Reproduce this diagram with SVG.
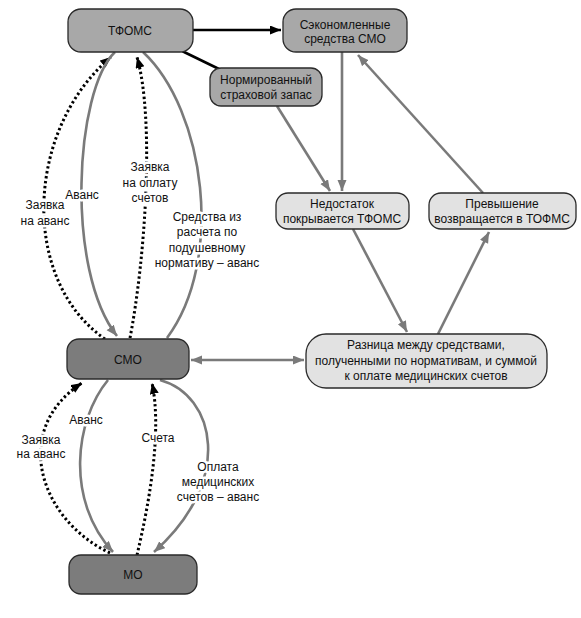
<svg xmlns="http://www.w3.org/2000/svg" width="581" height="618" viewBox="0 0 581 618">
<style>
text{font-family:"Liberation Sans",Arial,sans-serif;font-size:12px;fill:#111;text-anchor:middle}
.mid{fill:#a8a8a8;stroke:#2a2a2a;stroke-width:1.3}
.dark{fill:#7c7c7c;stroke:#2a2a2a;stroke-width:1.3}
.light{fill:#e2e2e2;stroke:#2a2a2a;stroke-width:1.3}
.g{fill:none;stroke:#7a7a7a;stroke-width:2.6}
.d{fill:none;stroke:#000;stroke-width:3;stroke-dasharray:2.4 2.6}
.k{fill:none;stroke:#000;stroke-width:2.6}
.lbl{paint-order:stroke;stroke:#fff;stroke-width:5px;stroke-linejoin:round}
</style>
<defs>
<marker id="ag" markerUnits="userSpaceOnUse" markerWidth="12" markerHeight="10" refX="11" refY="4.5" orient="auto-start-reverse"><path d="M0,0 L11,4.5 L0,9 z" fill="#7a7a7a"/></marker>
<marker id="ak" markerUnits="userSpaceOnUse" markerWidth="12" markerHeight="10" refX="11" refY="4.5" orient="auto"><path d="M0,0 L11,4.5 L0,9 z" fill="#000"/></marker>
</defs>
<rect width="581" height="618" fill="#fff"/>
<g id="connectors">
<path class="k" d="M193,30 L281,30" marker-end="url(#ak)"/>
<path class="k" d="M182,51 L219,69"/>
<path class="g" d="M277,106 L330,191" marker-end="url(#ag)"/>
<path class="g" d="M342,52 L342,191" marker-end="url(#ag)"/>
<path class="g" d="M483,193 L358,55" marker-end="url(#ag)"/>
<path class="g" d="M353,229 L407,332" marker-end="url(#ag)"/>
<path class="g" d="M438,334 L489,232" marker-end="url(#ag)"/>
<path class="g" d="M191,360 L304,360" marker-start="url(#ag)" marker-end="url(#ag)"/>
<path class="d" d="M105,339 C20,280 25,130 111,57" marker-end="url(#ak)"/>
<path class="g" d="M115,52 C75,90 65,270 117,336" marker-end="url(#ag)"/>
<path class="d" d="M130,338 C145,260 155,120 137,57" marker-end="url(#ak)"/>
<path class="g" d="M143,52 C205,110 225,260 167,338"/>
<path class="d" d="M110,553 C40,520 10,430 82,383" marker-end="url(#ak)"/>
<path class="g" d="M108,380 C75,420 65,500 113,552" marker-end="url(#ag)"/>
<path class="d" d="M137,555 C150,500 162,430 152,383" marker-end="url(#ak)"/>
<path class="g" d="M160,380 C215,395 235,480 154,552" marker-end="url(#ag)"/>
<g id="labels">
<text class="lbl" x="45" y="209">Заявка</text>
<text class="lbl" x="45" y="225">на аванс</text>
<text class="lbl" x="82" y="199">Аванс</text>
<text class="lbl" x="150" y="171">Заявка</text>
<text class="lbl" x="150" y="187">на оплату</text>
<text class="lbl" x="150" y="202">счетов</text>
<text class="lbl" x="207" y="221">Средства из</text>
<text class="lbl" x="207" y="236">расчета по</text>
<text class="lbl" x="207" y="252">подушевному</text>
<text class="lbl" x="207" y="267">нормативу – аванс</text>
<text class="lbl" x="41" y="444">Заявка</text>
<text class="lbl" x="41" y="458">на аванс</text>
<text class="lbl" x="86" y="424">Аванс</text>
<text class="lbl" x="158" y="442">Счета</text>
<text class="lbl" x="218" y="471">Оплата</text>
<text class="lbl" x="218" y="486">медицинских</text>
<text class="lbl" x="218" y="501">счетов – аванс</text>
</g>
</g>
<g id="tfoms"><rect class="mid" x="68" y="9" width="125" height="43" rx="13"/><text x="130" y="35">ТФОМС</text></g>
<g id="saved"><rect class="mid" x="283" y="9" width="124" height="43" rx="13"/><text x="345" y="29">Сэкономленные</text><text x="345" y="43">средства СМО</text></g>
<g id="reserve"><rect class="mid" x="210" y="68" width="112" height="38" rx="11"/><text x="266" y="84">Нормированный</text><text x="266" y="99">страховой запас</text></g>
<g id="shortage"><rect class="light" x="276" y="193" width="133" height="36" rx="12"/><text x="342" y="208">Недостаток</text><text x="342" y="223">покрывается ТФОМС</text></g>
<g id="excess"><rect class="light" x="429" y="193" width="147" height="36" rx="12"/><text x="502" y="208">Превышение</text><text x="502" y="223">возвращается в ТОФМС</text></g>
<g id="diff"><rect class="light" x="306" y="334" width="241" height="54" rx="20"/><text x="426" y="349">Разница между средствами,</text><text x="426" y="365">полученными по нормативам, и суммой</text><text x="426" y="380">к оплате медицинских счетов</text></g>
<g id="smo"><rect class="dark" x="67" y="339" width="122" height="40" rx="12"/><text x="128" y="364">СМО</text></g>
<g id="mo"><rect class="dark" x="69" y="555" width="128" height="39" rx="12"/><text x="133" y="579">МО</text></g>
</svg>
